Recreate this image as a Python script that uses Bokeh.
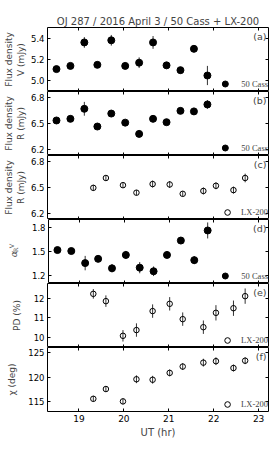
import numpy as np
from bokeh.plotting import figure
from bokeh.models import (Range1d, FixedTicker, LinearAxis, Label, Legend, LegendItem,
                          PrintfTickFormatter)
from bokeh.layouts import column, row
from bokeh.embed import file_html
from bokeh.resources import INLINE

title_text = "OJ 287 / 2016 April 3 / 50 Cass + LX-200"

# UT (hr) of observations
ut_50cass = [18.50, 18.81, 19.12, 19.41, 19.72, 20.03, 20.34, 20.65, 20.95, 21.26, 21.56, 21.86]
ut_lx200 = [19.32, 19.60, 19.98, 20.28, 20.64, 21.02, 21.31, 21.77, 22.05, 22.44, 22.70]

# (a) V flux density, 50 Cass
v_flux = [5.11, 5.14, 5.36, 5.15, 5.38, 5.14, 5.17, 5.36, 5.145, 5.10, 5.30, 5.05]
v_err = [0.025, 0.02, 0.05, 0.025, 0.05, 0.03, 0.05, 0.06, 0.03, 0.03, 0.03, 0.09]
# (b) R flux density, 50 Cass
r_flux_50 = [6.535, 6.554, 6.67, 6.465, 6.615, 6.51, 6.38, 6.554, 6.515, 6.646, 6.64, 6.72]
r_err_50 = [0.02, 0.02, 0.08, 0.02, 0.02, 0.025, 0.04, 0.025, 0.02, 0.025, 0.04, 0.05]
# (c) R flux density, LX-200
r_flux_lx = [6.496, 6.61, 6.527, 6.44, 6.54, 6.535, 6.427, 6.46, 6.52, 6.47, 6.61]
r_err_lx = [0.035, 0.03, 0.03, 0.03, 0.04, 0.04, 0.03, 0.04, 0.04, 0.04, 0.05]
# (d) spectral index
alpha = [1.518, 1.506, 1.355, 1.408, 1.29, 1.457, 1.298, 1.253, 1.457, 1.637, 1.392, 1.763]
alpha_err = [0.03, 0.02, 0.09, 0.04, 0.05, 0.05, 0.07, 0.06, 0.04, 0.04, 0.05, 0.10]
# (e) polarization degree
pd_vals = [12.26, 11.88, 10.07, 10.37, 11.36, 11.74, 10.94, 10.52, 11.27, 11.51, 12.14]
pd_err = [0.25, 0.3, 0.3, 0.35, 0.35, 0.35, 0.35, 0.35, 0.4, 0.4, 0.4]
# (f) polarization angle
chi_vals = [115.6, 117.6, 115.07, 119.6, 119.5, 120.9, 122.2, 123.0, 123.3, 121.9, 123.4]
chi_err = [0.6, 0.6, 0.6, 0.8, 0.8, 0.7, 0.7, 0.8, 0.8, 0.7, 0.7]

x_ticks = [19, 20, 21, 22, 23]
x_lim = (18.30, 23.22)

FONT = "DejaVu Sans"
W = 272
FRAME_H = 64
TOP = 27
BOTTOM = 30
LEFT = 46
LABEL_COL = 28   # width of the separate column holding the alpha label of panel (d)


def hidden_axis(ticks):
    return LinearAxis(ticker=FixedTicker(ticks=ticks), axis_line_color=None,
                      major_tick_in=3, major_tick_out=0, minor_tick_in=0, minor_tick_out=0,
                      major_label_text_font_size="0px", major_label_text_color=None,
                      major_label_standoff=0)


def make_panel(ylabel, label_standoff, ylim, yticks, yfmt, x, y, err, filled, legend_label,
               panel_label, top=False, bottom=False, width=W, left=LEFT):
    h = FRAME_H + (TOP if top else 0) + (BOTTOM if bottom else 0)
    p = figure(width=width, height=h, x_range=Range1d(*x_lim), y_range=Range1d(*ylim),
               output_backend="svg", toolbar_location=None,
               min_border_left=left, min_border_right=4,
               min_border_top=TOP if top else 0, min_border_bottom=BOTTOM if bottom else 0,
               x_axis_type=None)
    p.grid.visible = False
    p.outline_line_color = "black"
    p.outline_line_width = 1
    p.outline_line_alpha = 1

    # x axis (bottom)
    if bottom:
        xa = LinearAxis(ticker=FixedTicker(ticks=x_ticks), axis_line_color=None,
                        major_tick_in=3, major_tick_out=0, minor_tick_in=0, minor_tick_out=0,
                        major_tick_line_color="black")
        xa.axis_label = "UT (hr)"
        xa.axis_label_text_font = FONT
        xa.axis_label_text_font_style = "normal"
        xa.axis_label_text_font_size = "10px"
        xa.axis_label_standoff = 2
        xa.major_label_text_font = FONT
        xa.major_label_text_font_size = "9px"
        xa.major_label_standoff = 3
        xa.major_label_text_color = "black"
        p.add_layout(xa, "below")
    else:
        p.add_layout(hidden_axis(x_ticks), "below")

    # y axis (left)
    ya = p.yaxis[0]
    ya.ticker = FixedTicker(ticks=yticks)
    ya.formatter = PrintfTickFormatter(format=yfmt)
    ya.axis_line_color = None
    ya.major_tick_in = 3
    ya.major_tick_out = 0
    ya.minor_tick_in = 0
    ya.minor_tick_out = 0
    ya.major_label_text_font = FONT
    ya.major_label_text_font_size = "8.5px"
    ya.major_label_text_color = "black"
    ya.major_label_standoff = 3
    if ylabel:
        ya.axis_label = ylabel
        ya.axis_label_text_font = FONT
        ya.axis_label_text_font_style = "normal"
        ya.axis_label_text_font_size = "9px"
        ya.axis_label_standoff = label_standoff
        ya.axis_label_text_line_height = 1.2

    # top and right ticks
    p.add_layout(hidden_axis(x_ticks), "above")
    p.add_layout(hidden_axis(yticks), "right")

    xs = np.array(x)
    ys = np.array(y)
    es = np.array(err)
    p.segment(x0=xs, y0=ys - es, x1=xs, y1=ys + es, line_color="#333333", line_width=1)
    if filled:
        msize = 7
        r = p.scatter(xs, ys, marker="circle", size=msize, fill_color="black", line_color="black")
        gsize, standoff = 15, 9
    else:
        msize = 5.5
        r = p.scatter(xs, ys, marker="circle", size=msize, fill_color=None,
                      line_color="black", line_width=1)
        gsize, standoff = 14, 7

    leg = Legend(items=[LegendItem(label=legend_label, renderers=[r])],
                 location="bottom_right", border_line_color=None,
                 background_fill_alpha=0, label_text_font="Liberation Serif",
                 label_text_font_size="8.5px", glyph_width=gsize, glyph_height=gsize,
                 label_standoff=standoff, padding=1, margin=0, spacing=0, label_height=8)
    p.add_layout(leg)

    p.add_layout(Label(x=x_lim[1], y=ylim[1], text=panel_label, text_align="right",
                       text_baseline="top", x_offset=-2, y_offset=-3,
                       text_font=FONT, text_font_size="9.5px"))

    if top:
        p.title.text = title_text
        p.title.align = "center"
        p.title.text_font = FONT
        p.title.text_font_size = "10px"
        p.title.text_font_style = "normal"
        p.title.standoff = 1
    return p


pa = make_panel("Flux density\nV (mJy)", 2, (4.90, 5.50), [5.0, 5.2, 5.4], "%.1f",
                ut_50cass, v_flux, v_err, True, "50 Cass", "(a)", top=True)
pb = make_panel("Flux density\nR (mJy)", 2, (6.13, 6.87), [6.2, 6.5, 6.8], "%.1f",
                ut_50cass, r_flux_50, r_err_50, True, "50 Cass", "(b)")
pc = make_panel("Flux density\nR (mJy)", 2, (6.13, 6.87), [6.2, 6.5, 6.8], "%.1f",
                ut_lx200, r_flux_lx, r_err_lx, False, "LX-200", "(c)")
pd = make_panel(None, 0, (1.10, 1.90), [1.2, 1.5, 1.8], "%.1f",
                ut_50cass, alpha, alpha_err, True, "50 Cass", "(d)",
                width=W - LABEL_COL, left=LEFT - LABEL_COL)

# label column for panel (d): alpha with superscript V and subscript R (rotated)
lab = figure(width=LABEL_COL, height=FRAME_H, x_range=Range1d(0, LABEL_COL),
             y_range=Range1d(0, FRAME_H), output_backend="svg", toolbar_location=None,
             min_border_left=0, min_border_right=0, min_border_top=0, min_border_bottom=0,
             x_axis_type=None, y_axis_type=None)
lab.grid.visible = False
lab.outline_line_color = None
lab.add_layout(Label(x=12.5, y=29.5, text="α", angle=np.pi / 2,
                     text_font="DejaVu Serif", text_font_style="italic", text_font_size="9.5px",
                     text_align="center", text_baseline="middle"))
lab.add_layout(Label(x=11.0, y=37.5, text="V", angle=np.pi / 2,
                     text_font="DejaVu Serif", text_font_size="6px",
                     text_align="center", text_baseline="middle"))
lab.add_layout(Label(x=15.0, y=33.5, text="R", angle=np.pi / 2,
                     text_font="DejaVu Serif", text_font_size="6px",
                     text_align="center", text_baseline="middle"))

pe = make_panel("PD (%)", 9, (9.46, 12.8), [10, 11, 12], "%d",
                ut_lx200, pd_vals, pd_err, False, "LX-200", "(e)")
pf = make_panel("χ (deg)", 8, (113.0, 126.1), [115, 120, 125], "%d",
                ut_lx200, chi_vals, chi_err, False, "LX-200", "(f)", bottom=True)

layout = column(pa, pb, pc, row(lab, pd, spacing=0), pe, pf, spacing=0)
open("out.html", "w").write(file_html(layout, INLINE))
